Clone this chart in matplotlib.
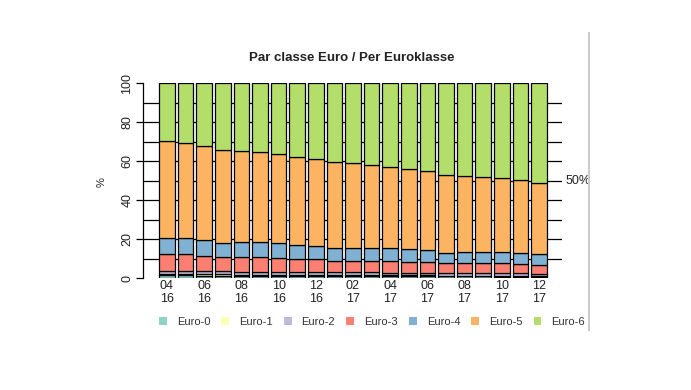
import matplotlib
matplotlib.use('Agg')
from matplotlib import pyplot as plt
from matplotlib.patches import Patch
from matplotlib.lines import Line2D
import numpy as np

plt.rcParams['font.family'] = ['Liberation Sans', 'DejaVu Sans']

months = ['04\n16', '05\n16', '06\n16', '07\n16', '08\n16', '09\n16', '10\n16', '11\n16', '12\n16',
          '01\n17', '02\n17', '03\n17', '04\n17', '05\n17', '06\n17', '07\n17', '08\n17', '09\n17',
          '10\n17', '11\n17', '12\n17']
classes = ['Euro-0', 'Euro-1', 'Euro-2', 'Euro-3', 'Euro-4', 'Euro-5', 'Euro-6']
colors = ['#8DD3C7', '#FFFFB3', '#BEBADA', '#FB8072', '#80B1D3', '#FDB462', '#B3DE69']

# share (%) per class, one value per month
euro0 = [1.3, 1.3, 1.2, 1.2, 1.2, 1.1, 1.1, 1.1, 1.0, 1.0, 1.0, 1.0, 0.9, 0.9, 0.9, 0.8, 0.8, 0.8, 0.7, 0.7, 0.7]
euro1 = [0.6, 0.6, 0.6, 0.6, 0.5, 0.5, 0.5, 0.5, 0.5, 0.5, 0.5, 0.4, 0.4, 0.4, 0.4, 0.4, 0.4, 0.4, 0.4, 0.4, 0.4]
euro2 = [1.7, 1.7, 1.7, 1.6, 1.6, 1.6, 1.6, 1.5, 1.5, 1.5, 1.5, 1.5, 1.4, 1.4, 1.4, 1.3, 1.3, 1.3, 1.3, 1.3, 1.2]
euro3 = [8.5, 8.7, 8.0, 7.2, 7.3, 7.6, 7.2, 6.6, 6.7, 5.7, 5.7, 6.0, 6.2, 5.7, 5.7, 5.0, 5.4, 5.4, 5.1, 4.8, 4.4]
euro4 = [8.2, 8.0, 8.0, 7.2, 7.7, 7.5, 7.6, 7.2, 6.9, 6.5, 6.5, 6.3, 6.3, 6.5, 6.0, 5.5, 5.6, 5.6, 5.7, 5.4, 5.4]
euro5 = [50.1, 48.8, 48.4, 47.8, 47.0, 46.3, 45.6, 45.3, 44.6, 44.1, 43.8, 42.9, 41.9, 41.2, 40.6, 39.7, 38.8,
         38.4, 38.2, 37.7, 36.4]
euro6 = [29.6, 30.9, 32.1, 34.4, 34.7, 35.4, 36.4, 37.8, 38.8, 40.7, 41.0, 41.9, 42.9, 43.9, 45.0, 47.3, 47.7,
         48.1, 48.6, 49.7, 51.5]
series = [euro0, euro1, euro2, euro3, euro4, euro5, euro6]

W, H = 691, 390
fig = plt.figure(figsize=(W / 100, H / 100), dpi=100)
ax = fig.add_axes([143 / W, (H - 278) / H, (562 - 143) / W, 195 / H])

x = np.arange(len(months))
# horizontal reference lines behind the bars
for h in range(10, 100, 10):
    ax.axhline(h, color='black', lw=0.9, zorder=0)

bottom = np.zeros(len(months))
for vals, col in zip(series, colors):
    ax.bar(x, vals, bottom=bottom, width=0.84, color=col, edgecolor='black', linewidth=0.9, zorder=2)
    bottom += np.array(vals)

ax.set_xlim(-1.29, 21.24)
ax.set_ylim(0, 100)
for s in ['top', 'right', 'bottom']:
    ax.spines[s].set_visible(False)
ax.spines['left'].set_linewidth(0.9)
ax.set_yticks([0, 20, 40, 60, 80, 100])
ax.set_yticklabels(['0', '20', '40', '60', '80', '100'], rotation=90, va='center', fontsize=9, color='#222222')
ax.tick_params(axis='y', length=5, width=0.9, pad=2)
ax.set_xticks(x[::2])
ax.set_xticklabels(months[::2], fontsize=9, color='#222222', linespacing=1.05)
ax.tick_params(axis='x', length=0, pad=1.5)

ax.text(21.45, 50, '50%', fontsize=9, va='center', ha='left', color='#222222')

fig.text(352 / W, 1 - 58 / H, 'Par classe Euro / Per Euroklasse', ha='center', va='center',
         fontsize=9.5, fontweight='bold', color='#222222')
fig.text(102 / W, 1 - 182 / H, '%', ha='center', va='center', rotation=90, fontsize=8, color='#222222')

handles = [Patch(facecolor=c, edgecolor='none') for c in colors]
fig.legend(handles, classes, loc='center', bbox_to_anchor=(372 / W, 1 - 322 / H), ncol=7, frameon=False,
           fontsize=8, handlelength=0.7, handleheight=0.7, handletextpad=0.9, columnspacing=1.0,
           labelcolor='#333333')

fig.add_artist(Line2D([589 / W, 589 / W], [1 - 330 / H, 1 - 33 / H], color='#cccccc', lw=1.5))

fig.savefig('out.png', dpi=100)
